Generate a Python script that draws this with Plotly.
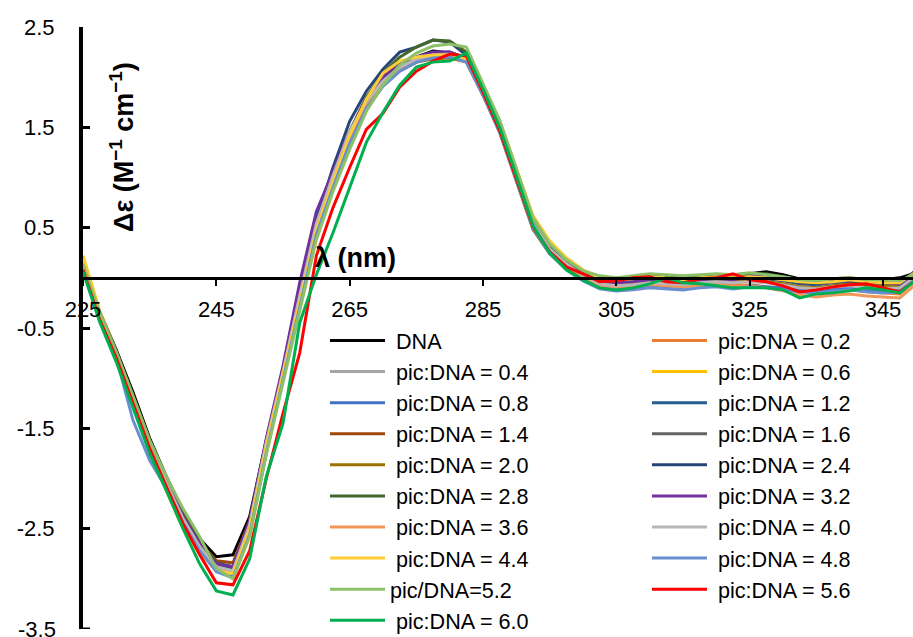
import plotly.graph_objects as go

# ---------------- data ----------------
wavelength = [225.0, 227.5, 230.0, 232.5, 235.0, 237.5, 240.0, 242.5, 245.0, 247.5,
              250.0, 252.5, 255.0, 257.5, 260.0, 262.5, 265.0, 267.5, 270.0, 272.5,
              275.0, 277.5, 280.0, 282.5, 285.0, 287.5, 290.0, 292.5, 295.0, 297.5,
              300.0, 302.5, 305.0, 307.5, 310.0, 312.5, 315.0, 317.5, 320.0, 322.5,
              325.0, 327.5, 330.0, 332.5, 335.0, 337.5, 340.0, 342.5, 345.0, 347.5,
              350.0]

dna = [0.12, -0.34, -0.72, -1.14, -1.60, -1.98, -2.33, -2.60, -2.78, -2.76,
       -2.38, -1.62, -0.95, -0.22, 0.48, 0.95, 1.38, 1.72, 1.95, 2.10,
       2.20, 2.26, 2.24, 2.18, 1.88, 1.52, 1.04, 0.56, 0.31, 0.16,
       0.06, 0.00, -0.02, -0.01, 0.01, 0.00, -0.02, 0.01, 0.02, 0.03,
       0.04, 0.06, 0.03, -0.01, -0.03, -0.02, -0.01, -0.03, -0.02, 0.00,
       0.05]
r02 = [0.14, -0.36, -0.75, -1.18, -1.65, -2.02, -2.38, -2.66, -2.86, -2.90,
       -2.46, -1.66, -0.97, -0.24, 0.47, 0.94, 1.37, 1.71, 1.92, 2.07,
       2.16, 2.21, 2.22, 2.17, 1.85, 1.49, 1.00, 0.52, 0.27, 0.12,
       0.01, -0.07, -0.09, -0.08, -0.06, -0.08, -0.09, -0.07, -0.06, -0.08,
       -0.07, -0.09, -0.11, -0.14, -0.15, -0.13, -0.12, -0.14, -0.15, -0.16,
       -0.02]
r04 = [0.11, -0.37, -0.77, -1.21, -1.67, -2.05, -2.41, -2.69, -2.89, -2.94,
       -2.52, -1.72, -1.01, -0.27, 0.44, 0.90, 1.34, 1.69, 1.92, 2.07,
       2.15, 2.20, 2.22, 2.17, 1.85, 1.49, 1.01, 0.53, 0.28, 0.13,
       0.02, -0.05, -0.08, -0.06, -0.05, -0.06, -0.07, -0.05, -0.04, -0.05,
       -0.03, -0.04, -0.06, -0.09, -0.10, -0.08, -0.07, -0.08, -0.09, -0.10,
       0.01]
r06 = [0.22, -0.33, -0.74, -1.22, -1.70, -2.10, -2.46, -2.72, -2.90, -2.92,
       -2.48, -1.65, -0.92, -0.18, 0.50, 0.96, 1.40, 1.76, 2.02, 2.15,
       2.18, 2.19, 2.20, 2.16, 1.90, 1.55, 1.08, 0.60, 0.35, 0.19,
       0.07, -0.01, -0.03, -0.02, 0.00, -0.02, -0.03, 0.00, 0.01, -0.01,
       0.01, 0.00, -0.02, -0.05, -0.06, -0.04, -0.03, -0.04, -0.05, -0.06,
       0.04]
r08 = [0.10, -0.40, -0.79, -1.24, -1.70, -2.07, -2.43, -2.71, -2.92, -2.97,
       -2.55, -1.74, -1.03, -0.30, 0.42, 0.89, 1.33, 1.68, 1.91, 2.06,
       2.15, 2.20, 2.21, 2.16, 1.83, 1.46, 0.98, 0.50, 0.25, 0.09,
       -0.02, -0.10, -0.12, -0.11, -0.09, -0.10, -0.11, -0.09, -0.08, -0.10,
       -0.08, -0.09, -0.10, -0.12, -0.13, -0.11, -0.10, -0.12, -0.13, -0.12,
       0.00]
r12 = [0.09, -0.38, -0.76, -1.19, -1.64, -2.02, -2.38, -2.67, -2.87, -2.91,
       -2.47, -1.66, -0.96, -0.22, 0.49, 0.97, 1.42, 1.76, 1.98, 2.12,
       2.20, 2.24, 2.25, 2.19, 1.86, 1.50, 1.02, 0.54, 0.29, 0.14,
       0.03, -0.04, -0.05, -0.04, -0.02, -0.03, -0.04, -0.02, -0.01, -0.02,
       0.00, -0.01, -0.03, -0.06, -0.07, -0.05, -0.04, -0.05, -0.06, -0.07,
       0.06]
r14 = [0.12, -0.36, -0.74, -1.17, -1.63, -2.00, -2.36, -2.64, -2.82, -2.84,
       -2.42, -1.64, -0.97, -0.24, 0.46, 0.93, 1.37, 1.71, 1.94, 2.09,
       2.18, 2.23, 2.24, 2.18, 1.85, 1.49, 1.01, 0.53, 0.28, 0.13,
       0.02, -0.04, -0.05, -0.03, -0.02, -0.03, -0.04, -0.01, 0.01, 0.02,
       0.00, 0.01, -0.02, -0.05, -0.06, -0.04, -0.03, -0.04, -0.05, -0.06,
       0.03]
r16 = [0.10, -0.37, -0.75, -1.19, -1.65, -2.03, -2.39, -2.67, -2.86, -2.89,
       -2.46, -1.67, -0.98, -0.25, 0.46, 0.93, 1.37, 1.71, 1.94, 2.09,
       2.18, 2.23, 2.23, 2.18, 1.86, 1.50, 1.02, 0.54, 0.29, 0.14,
       0.03, -0.03, -0.05, -0.04, -0.02, -0.03, -0.04, -0.02, -0.01, 0.00,
       0.02, 0.01, -0.02, -0.05, -0.06, -0.04, -0.03, -0.05, -0.05, -0.04,
       0.04]
r20 = [0.11, -0.37, -0.76, -1.20, -1.66, -2.04, -2.40, -2.68, -2.87, -2.91,
       -2.48, -1.68, -0.99, -0.26, 0.45, 0.92, 1.35, 1.69, 1.92, 2.07,
       2.15, 2.18, 2.19, 2.15, 1.82, 1.45, 0.97, 0.48, 0.24, 0.10,
       0.00, -0.06, -0.08, -0.06, -0.05, -0.06, -0.06, -0.04, -0.03, -0.04,
       -0.03, -0.04, -0.06, -0.09, -0.10, -0.08, -0.06, -0.08, -0.08, -0.09,
       0.02]
r24 = [0.10, -0.37, -0.75, -1.18, -1.64, -2.02, -2.38, -2.66, -2.86, -2.90,
       -2.44, -1.62, -0.92, -0.16, 0.58, 1.10, 1.56, 1.86, 2.08, 2.25,
       2.30, 2.37, 2.35, 2.22, 1.87, 1.51, 1.03, 0.55, 0.30, 0.15,
       0.04, -0.03, -0.04, -0.03, -0.01, -0.02, -0.03, -0.01, 0.00, -0.01,
       0.01, 0.00, -0.02, -0.05, -0.06, -0.04, -0.03, -0.04, -0.05, -0.06,
       0.08]
r28 = [0.13, -0.35, -0.74, -1.17, -1.62, -2.00, -2.36, -2.64, -2.84, -2.88,
       -2.45, -1.65, -0.95, -0.20, 0.52, 1.00, 1.46, 1.80, 2.04, 2.20,
       2.30, 2.37, 2.36, 2.25, 1.92, 1.56, 1.08, 0.60, 0.34, 0.18,
       0.07, 0.01, -0.01, 0.01, 0.03, 0.02, 0.01, 0.02, 0.03, 0.02,
       0.04, 0.04, 0.01, -0.02, -0.03, -0.01, 0.00, -0.02, -0.02, -0.03,
       0.05]
r32 = [0.10, -0.36, -0.74, -1.18, -1.64, -2.02, -2.38, -2.65, -2.85, -2.88,
       -2.42, -1.60, -0.88, -0.05, 0.66, 1.06, 1.46, 1.78, 2.00, 2.13,
       2.20, 2.25, 2.25, 2.19, 1.86, 1.50, 1.02, 0.54, 0.29, 0.14,
       0.03, -0.04, -0.05, -0.04, -0.02, -0.03, -0.04, -0.02, -0.01, -0.02,
       0.01, 0.03, 0.00, -0.03, -0.04, -0.03, -0.02, -0.04, -0.05, -0.06,
       0.02]
r36 = [0.12, -0.37, -0.77, -1.21, -1.67, -2.05, -2.41, -2.69, -2.89, -2.93,
       -2.48, -1.66, -0.95, -0.20, 0.50, 0.96, 1.40, 1.73, 1.95, 2.09,
       2.17, 2.21, 2.22, 2.17, 1.85, 1.49, 1.01, 0.53, 0.28, 0.13,
       0.01, -0.07, -0.09, -0.08, -0.07, -0.08, -0.10, -0.08, -0.07, -0.09,
       -0.08, -0.10, -0.13, -0.17, -0.19, -0.17, -0.16, -0.18, -0.19, -0.20,
       -0.06]
r40 = [0.11, -0.37, -0.76, -1.20, -1.66, -2.04, -2.40, -2.68, -2.88, -2.92,
       -2.46, -1.64, -0.94, -0.18, 0.54, 1.02, 1.46, 1.76, 1.96, 2.10,
       2.18, 2.22, 2.23, 2.18, 1.86, 1.50, 1.02, 0.54, 0.29, 0.14,
       0.02, -0.06, -0.08, -0.07, -0.05, -0.06, -0.07, -0.05, -0.04, -0.05,
       -0.04, -0.05, -0.07, -0.10, -0.11, -0.09, -0.08, -0.10, -0.11, -0.10,
       0.02]
r44 = [0.20, -0.35, -0.77, -1.24, -1.72, -2.12, -2.50, -2.74, -2.92, -2.95,
       -2.50, -1.68, -0.96, -0.22, 0.48, 0.96, 1.42, 1.78, 2.04, 2.16,
       2.20, 2.22, 2.22, 2.18, 1.90, 1.56, 1.10, 0.62, 0.37, 0.20,
       0.08, 0.00, -0.02, -0.01, 0.01, 0.00, -0.02, 0.00, 0.01, 0.00,
       0.01, 0.00, -0.02, -0.04, -0.05, -0.04, -0.02, -0.04, -0.05, -0.05,
       0.06]
r48 = [0.08, -0.40, -0.80, -1.42, -1.82, -2.10, -2.44, -2.72, -2.93, -2.99,
       -2.56, -1.74, -1.02, -0.28, 0.43, 0.90, 1.34, 1.69, 1.91, 2.06,
       2.15, 2.19, 2.20, 2.15, 1.82, 1.45, 0.97, 0.49, 0.24, 0.08,
       -0.03, -0.11, -0.13, -0.12, -0.10, -0.11, -0.12, -0.10, -0.09, -0.11,
       -0.09, -0.10, -0.12, -0.14, -0.15, -0.13, -0.12, -0.14, -0.15, -0.14,
       -0.01]
r52 = [0.14, -0.35, -0.74, -1.17, -1.62, -1.98, -2.30, -2.58, -2.90, -3.00,
       -2.58, -1.76, -1.04, -0.32, 0.38, 0.86, 1.28, 1.66, 1.92, 2.12,
       2.24, 2.31, 2.33, 2.30, 1.94, 1.57, 1.09, 0.60, 0.34, 0.18,
       0.07, 0.02, 0.00, 0.02, 0.04, 0.03, 0.02, 0.03, 0.04, 0.03,
       0.05, 0.03, 0.01, -0.02, -0.03, -0.01, 0.00, -0.02, -0.02, -0.03,
       0.04]
r56 = [0.08, -0.42, -0.80, -1.24, -1.70, -2.08, -2.45, -2.76, -3.04, -3.06,
       -2.72, -2.00, -1.35, -0.75, 0.22, 0.70, 1.10, 1.48, 1.64, 1.90,
       2.06, 2.16, 2.23, 2.21, 1.85, 1.47, 0.99, 0.51, 0.26, 0.11,
       0.04, -0.04, -0.03, 0.00, 0.01, -0.04, -0.05, -0.01, 0.00, 0.04,
       -0.02, -0.04, -0.08, -0.14, -0.12, -0.09, -0.07, -0.06, -0.10, -0.14,
       -0.02]
r60 = [0.06, -0.44, -0.84, -1.30, -1.75, -2.12, -2.50, -2.85, -3.12, -3.16,
       -2.80, -1.98, -1.45, -0.45, 0.03, 0.45, 0.90, 1.35, 1.65, 1.92,
       2.10, 2.15, 2.16, 2.24, 1.88, 1.50, 1.02, 0.52, 0.25, 0.08,
       -0.02, -0.10, -0.12, -0.10, -0.06, 0.00, -0.05, -0.06, -0.08, -0.10,
       -0.10, -0.10, -0.12, -0.20, -0.16, -0.15, -0.13, -0.10, -0.12, -0.15,
       -0.02]

NB = "\u00a0"
series_names = [NB + "DNA", NB + "pic:DNA = 0.2", NB + "pic:DNA = 0.4", NB + "pic:DNA = 0.6",
                NB + "pic:DNA = 0.8", NB + "pic:DNA = 1.2", NB + "pic:DNA = 1.4", NB + "pic:DNA = 1.6",
                NB + "pic:DNA = 2.0", NB + "pic:DNA = 2.4", NB + "pic:DNA = 2.8", NB + "pic:DNA = 3.2",
                NB + "pic:DNA = 3.6", NB + "pic:DNA = 4.0", NB + "pic:DNA = 4.4", NB + "pic:DNA = 4.8",
                "pic/DNA=5.2", NB + "pic:DNA = 5.6", NB + "pic:DNA = 6.0"]
series_values = [dna, r02, r04, r06, r08, r12, r14, r16, r20, r24, r28, r32, r36,
                 r40, r44, r48, r52, r56, r60]
series_colors = ["#000000", "#ED7D31", "#A5A5A5", "#FFC000", "#4472C4", "#255E91",
                 "#9E480E", "#636363", "#997300", "#264478", "#43682B", "#7030A0",
                 "#F1975A", "#B7B7B7", "#FFCD33", "#698ED0", "#8CC168", "#FF0000",
                 "#00B050"]

x_tickvals = [225, 245, 265, 285, 305, 325, 345]
x_ticktext = ["225", "245", "265", "285", "305", "325", "345"]
y_tickvals = [2.5, 1.5, 0.5, -0.5, -1.5, -2.5, -3.5]
y_ticktext = ["2.5", "1.5", "0.5", "-0.5", "-1.5", "-2.5", "-3.5"]

for ys in series_values:
    assert len(ys) == len(wavelength)

# ---------------- figure ----------------
FONT = "Arial, 'Liberation Sans', sans-serif"
fig = go.Figure()
for i, (name, color, ys) in enumerate(zip(series_names, series_colors, series_values)):
    fig.add_trace(go.Scatter(x=wavelength, y=ys, mode="lines", name=name,
                             legend="legend" if i % 2 == 0 else "legend2",
                             line=dict(color=color, width=3)))

LEG_FONT = dict(family=FONT, size=21.6, color="black")
fig.update_layout(
    width=913, height=637,
    margin=dict(l=83, r=0, t=27, b=8, autoexpand=False),
    paper_bgcolor="white", plot_bgcolor="white",
    font=dict(family=FONT, size=22, color="black"),
    showlegend=True,
    xaxis=dict(range=[225, 349.5], tickmode="array", tickvals=x_tickvals, ticktext=x_ticktext,
               ticks="outside", ticklen=6, tickwidth=2, tickcolor="black",
               showline=True, linecolor="black", linewidth=3, automargin=False,
               showgrid=False, zeroline=False, anchor="free", position=3.5 / 6.0,
               ticklabelstandoff=5,
               tickfont=dict(family=FONT, size=22, color="black")),
    yaxis=dict(range=[-3.5, 2.5], tickmode="array", tickvals=y_tickvals[:-1],
               ticktext=y_ticktext[:-1],
               ticks="inside", ticklen=7, tickwidth=3, tickcolor="black",
               showline=True, linecolor="black", linewidth=4, automargin=False,
               showgrid=False, zeroline=False, ticklabelstandoff=20,
               tickfont=dict(family=FONT, size=22, color="black")),
    legend=dict(orientation="v", x=(325 - 83) / 830, y=(629 - 320) / 602,
                xanchor="left", yanchor="top", bgcolor="rgba(0,0,0,0)",
                font=LEG_FONT, itemwidth=55, traceorder="normal", tracegroupgap=0),
    legend2=dict(orientation="v", x=(647 - 83) / 830, y=(629 - 320) / 602,
                 xanchor="left", yanchor="top", bgcolor="rgba(0,0,0,0)",
                 font=LEG_FONT, itemwidth=55, traceorder="normal", tracegroupgap=0),
)

# bottom tick mark and label at the lowest y value (label sits at the page edge)
fig.add_shape(type="line", xref="paper", yref="y", x0=0, x1=7 / 830,
              y0=y_tickvals[-1], y1=y_tickvals[-1], line=dict(color="black", width=3))
fig.add_annotation(text=y_ticktext[-1], xref="paper", yref="y",
                   x=(58 - 83) / 830, y=y_tickvals[-1], showarrow=False,
                   xanchor="right", yanchor="middle",
                   font=dict(family=FONT, size=22, color="black"))

fig.add_annotation(text="<b>Δε (M<sup>−1</sup> cm<sup>−1</sup>)</b>", xref="paper", yref="paper",
                   x=(122 - 83) / 830, y=(629 - 147) / 602, textangle=-90, showarrow=False,
                   xanchor="center", yanchor="middle",
                   font=dict(family=FONT, size=27, color="black"))
fig.add_annotation(text="<b>λ (nm)</b>", xref="paper", yref="paper",
                   x=(355 - 83) / 830, y=(629 - 258) / 602, showarrow=False,
                   xanchor="center", yanchor="middle",
                   font=dict(family=FONT, size=27, color="black"))

fig.write_html("out.html")
